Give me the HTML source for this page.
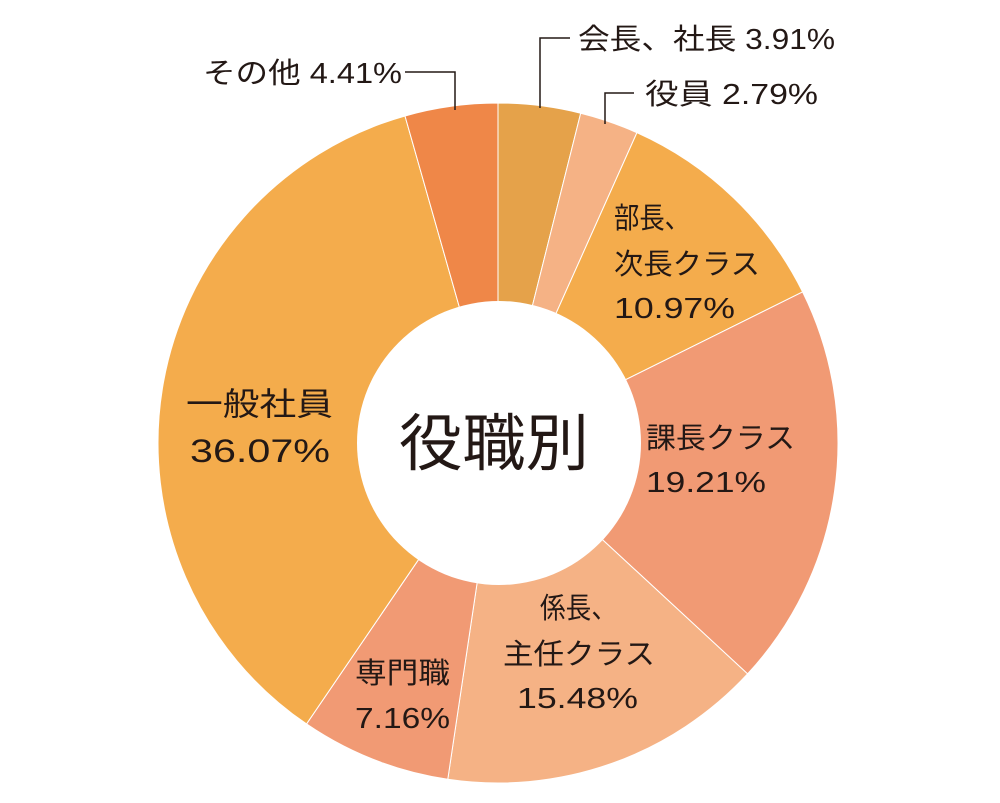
<!DOCTYPE html>
<html><head><meta charset="utf-8"><style>
html,body{margin:0;padding:0;background:#fff;}
svg text{font-family:"Liberation Sans","Noto Sans CJK JP",sans-serif;fill:#231815;}
</style></head><body>
<svg id="s" width="1000" height="798" viewBox="0 0 1000 798" xmlns="http://www.w3.org/2000/svg">
<g id="slices"></g>
<circle cx="499" cy="443" r="142" fill="#fff"/>
<text x="399" y="465" font-size="62" textLength="190" lengthAdjust="spacingAndGlyphs">役職別</text>
<g stroke="#231815" stroke-width="1.5" fill="none">
<polyline points="540,108 540,38 570,38"/>
<polyline points="605,124 605,93 634,93"/>
<polyline points="455,110 455,72 405,72"/>
</g>
<g font-size="29" lengthAdjust="spacingAndGlyphs">
<text x="578" y="49" textLength="257" lengthAdjust="spacingAndGlyphs">会長、社長 3.91%</text>
<text x="645" y="104" textLength="173" lengthAdjust="spacingAndGlyphs">役員 2.79%</text>
<text x="203" y="83" textLength="199" lengthAdjust="spacingAndGlyphs">その他 4.41%</text>
<text x="614" y="228" textLength="76" lengthAdjust="spacingAndGlyphs">部長、</text>
<text x="614" y="274" textLength="146" lengthAdjust="spacingAndGlyphs">次長クラス</text>
<text x="614" y="318" textLength="121" lengthAdjust="spacingAndGlyphs">10.97%</text>
<text x="646" y="448" textLength="149" lengthAdjust="spacingAndGlyphs">課長クラス</text>
<text x="646" y="492" textLength="120" lengthAdjust="spacingAndGlyphs">19.21%</text>
<text x="540" y="618" textLength="77" lengthAdjust="spacingAndGlyphs">係長、</text>
<text x="503" y="664" textLength="152" lengthAdjust="spacingAndGlyphs">主任クラス</text>
<text x="517" y="708" textLength="121" lengthAdjust="spacingAndGlyphs">15.48%</text>
<text x="355" y="683" textLength="95" lengthAdjust="spacingAndGlyphs">専門職</text>
<text x="355" y="728" textLength="95" lengthAdjust="spacingAndGlyphs">7.16%</text>
<text x="186" y="415" font-size="32" textLength="147" lengthAdjust="spacingAndGlyphs">一般社員</text>
<text x="190" y="462" font-size="32" textLength="140" lengthAdjust="spacingAndGlyphs">36.07%</text>
</g>
</svg>
<script>
var d=[[3.91,"#E5A24A"],[2.79,"#F5B285"],[10.97,"#F4AC4C"],[19.21,"#F19A74"],[15.48,"#F5B285"],[7.16,"#F19A74"],[36.07,"#F4AC4C"],[4.41,"#EF8748"]];
var cx=498,cy=443,R=340,a=0,g=document.getElementById("slices"),h="";
function p(t){return [cx+R*Math.sin(t),cy-R*Math.cos(t)];}
d.forEach(function(x){var b=a+x[0]/100*2*Math.PI;var s=p(a),e=p(b);
h+='<path d="M'+cx+','+cy+'L'+s[0]+','+s[1]+'A'+R+','+R+' 0 '+((b-a)>Math.PI?1:0)+' 1 '+e[0]+','+e[1]+'Z" fill="'+x[1]+'" stroke="#fff" stroke-width="1"/>';a=b;});
g.innerHTML=h;
</script>
</body></html>
